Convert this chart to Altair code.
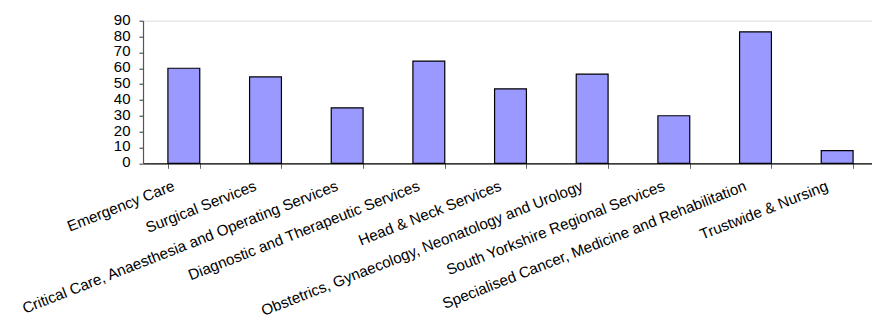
import altair as alt
import pandas as pd

categories = [
    "Emergency Care",
    "Surgical Services",
    "Critical Care, Anaesthesia and Operating Services",
    "Diagnostic and Therapeutic Services",
    "Head & Neck Services",
    "Obstetrics, Gynaecology, Neonatology and Urology",
    "South Yorkshire Regional Services",
    "Specialised Cancer, Medicine and Rehabilitation",
    "Trustwide & Nursing",
]
values = [60, 54.5, 35, 64.5, 47, 56.3, 30, 83, 8]

df = pd.DataFrame({"category": categories, "value": values})

FONT = "Liberation Sans"

chart = alt.Chart(df).mark_bar(
    color="#9999FF", stroke="#000000", strokeWidth=1.2
).encode(
    x=alt.X(
        "category:N",
        sort=categories,
        title=None,
        scale=alt.Scale(range=[0, 735], paddingInner=0.61, paddingOuter=0.305),
        axis=alt.Axis(
            labelAngle=-21.5,
            labelAlign="right",
            labelBaseline="top",
            labelPadding=10,
            labelOffset=-13,
            labelLimit=600,
            labelOverlap=False,
            labelFont=FONT,
            labelFontSize=15.2,
            labelColor="#000000",
            tickBand="extent",
            tickSize=5,
            tickColor="#666666",
            domainColor="#000000",
            domainWidth=1.2,
        ),
    ),
    y=alt.Y(
        "value:Q",
        title=None,
        scale=alt.Scale(domain=[0, 90], nice=False),
        axis=alt.Axis(
            values=list(range(0, 91, 10)),
            grid=False,
            tickSize=4,
            tickColor="#333333",
            domainColor="#555555",
            domainWidth=1.2,
            labelPadding=9,
            labelOffset=-1.5,
            labelFont=FONT,
            labelFontSize=15,
            labelColor="#000000",
        ),
    ),
).properties(
    width=729,
    height=142.6,
    autosize=alt.AutoSizeParams(type="none"),
    padding={"left": 143, "top": 20.7, "right": 0, "bottom": 159},
).configure_view(stroke=None).configure(background="#ffffff")

chart.save("out.html", embed_options={"renderer": "svg", "actions": False})
